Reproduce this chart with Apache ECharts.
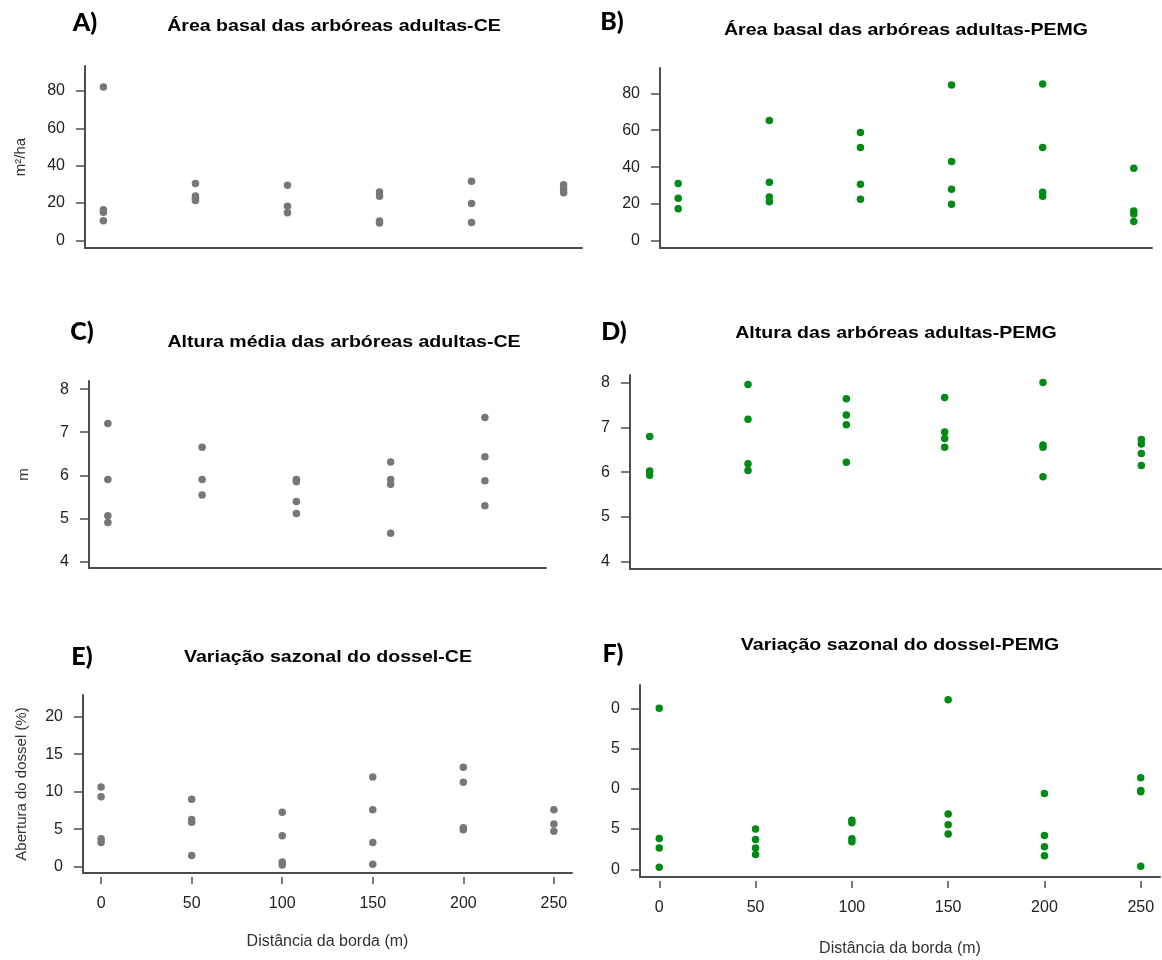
<!DOCTYPE html>
<html>
<head>
<meta charset="utf-8">
<title>Distância da borda</title>
<script src="https://cdn.jsdelivr.net/npm/echarts@6.0.0/dist/echarts.min.js"></script>
<style>
    html, body { margin: 0; padding: 0; background: #fff; }
    #chart { width: 1162px; height: 960px; }
</style>
</head>
<body>
<div id="chart"></div>
<script>
    // distancias da borda (m)
    var distancias = [0, 50, 100, 150, 200, 250];
    var distanciasCE = [0, 50, 100, 150, 200];

    // valores, um array por distancia
    var areaCE = [[82.1, 16.4, 15.0, 10.5], [30.5, 23.8, 22.6, 21.4], [29.5, 18.2, 14.8], [25.9, 23.6, 10.4, 9.3], [31.6, 19.8, 9.5], [29.8, 27.7, 25.5]];
    var areaPEMG = [[31.2, 23.1, 17.5], [65.3, 31.8, 23.8, 21.3], [58.8, 50.7, 30.7, 22.6], [84.5, 43.1, 28.0, 19.9], [85.0, 50.7, 26.4, 24.2], [39.4, 16.2, 14.6, 10.5]];
    var alturaCE = [[7.20, 5.90, 5.06, 4.90], [6.65, 5.90, 5.54], [5.90, 5.85, 5.39, 5.11], [6.31, 5.90, 5.79, 4.65], [7.34, 6.43, 5.87, 5.29]];
    var alturaPEMG = [[6.80, 6.03, 5.93], [7.96, 7.18, 6.19, 6.04], [7.64, 7.28, 7.06, 6.22], [7.67, 6.90, 6.75, 6.56], [8.00, 6.61, 6.56, 5.90], [6.73, 6.63, 6.42, 6.15]];
    var dosselCE = [[10.64, 9.31, 3.72, 3.24], [9.0, 6.3, 5.94, 1.5], [7.27, 4.12, 0.62, 0.22], [11.97, 7.58, 3.24, 0.31], [13.26, 11.26, 5.19, 4.92], [7.58, 5.68, 4.74]];
    var dosselPEMG = [[20.0, 3.83, 2.63, 0.25], [5.0, 3.71, 2.63, 1.83], [6.08, 5.79, 3.79, 3.42], [21.08, 6.88, 5.54, 4.38], [9.42, 4.21, 2.79, 1.67], [11.38, 9.79, 9.63, 0.38]];

    // marcas dos eixos
    var ticksArea = [0, 20, 40, 60, 80];
    var ticksAltura = [4, 5, 6, 7, 8];
    var ticksDossel = [0, 5, 10, 15, 20];
    var labelsDosselF = ['0', '5', '0', '5', '0'];   // assim como aparecem (cortados) no painel F
    var ticksDistancia = [0, 50, 100, 150, 200, 250];

    var cinza = '#777777';
    var verde = '#008c14';
    var corEixo = '#4d4d4d';
    var fonte = '"Liberation Sans", Arial, sans-serif';

    function pontos(grupos, xs) {
        var out = [];
        grupos.forEach(function (vals, i) {
            vals.forEach(function (v) { out.push([xs[i], v]); });
        });
        return out;
    }

    var paineis = [
        {letra: 'A)', titulo: 'Área basal das arbóreas adultas-CE', dados: pontos(areaCE, distancias), cor: cinza,
            grid: {left: 85, top: 66, width: 497, height: 182}, x: [-10, 260], y: [-4.1, 93.4], ticks: ticksArea,
            nome: 'm²/ha', nomeGap: 57, tituloPos: [334, 26], letraPos: [85, 23]},
        {letra: 'B)', titulo: 'Área basal das arbóreas adultas-PEMG', dados: pontos(areaPEMG, distancias), cor: verde,
            grid: {left: 660, top: 68, width: 492, height: 180}, x: [-10, 260], y: [-3.8, 93.7], ticks: ticksArea,
            nome: '', nomeGap: 57, tituloPos: [906, 30], letraPos: [612, 22]},
        {letra: 'C)', titulo: 'Altura média das arbóreas adultas-CE', dados: pontos(alturaCE, distanciasCE), cor: cinza,
            grid: {left: 89, top: 381, width: 457, height: 187}, x: [-10, 232.4], y: [3.845, 8.19], ticks: ticksAltura,
            nome: 'm', nomeGap: 58, tituloPos: [344, 342], letraPos: [82, 332]},
        {letra: 'D)', titulo: 'Altura das arbóreas adultas-PEMG', dados: pontos(alturaPEMG, distancias), cor: verde,
            grid: {left: 630, top: 375, width: 531, height: 194}, x: [-10, 260], y: [3.84, 8.17], ticks: ticksAltura,
            nome: '', nomeGap: 57, tituloPos: [896, 333], letraPos: [614, 332]},
        {letra: 'E)', titulo: 'Variação sazonal do dossel-CE', dados: pontos(dosselCE, distancias), cor: cinza,
            grid: {left: 83, top: 695, width: 489, height: 178}, x: [-10, 260], y: [-0.84, 22.89], ticks: ticksDossel,
            nome: 'Abertura do dossel (%)', nomeGap: 54, tituloPos: [328, 657], letraPos: [82, 657],
            eixoX: {offset: 4, margin: 19, nameGap: 57}},
        {letra: 'F)', titulo: 'Variação sazonal do dossel-PEMG', dados: pontos(dosselPEMG, distancias), cor: verde,
            grid: {left: 640, top: 685, width: 520, height: 192}, x: [-10, 260], y: [-0.96, 22.9], ticks: ticksDossel,
            labels: labelsDosselF, nome: '', nomeGap: 57, tituloPos: [900, 645], letraPos: [613, 654],
            eixoX: {offset: 4, margin: 19, nameGap: 60}}
    ];

    var grids = [], xAxes = [], yAxes = [], series = [], textos = [];

    paineis.forEach(function (p, i) {
        var g = p.grid;
        g.outerBoundsMode = 'none';
        grids.push(g);

        // linha de baixo da caixa em L
        var xIdx = xAxes.length;
        xAxes.push({
            gridIndex: i, type: 'value', position: 'bottom', min: p.x[0], max: p.x[1],
            axisLine: {show: true, onZero: false, lineStyle: {color: corEixo, width: 2}},
            axisTick: {show: false}, axisLabel: {show: false}, splitLine: {show: false}
        });
        if (p.eixoX) {
            // eixo de distancia, um pouco afastado da caixa
            xAxes.push({
                gridIndex: i, type: 'value', position: 'bottom', min: p.x[0], max: p.x[1], offset: p.eixoX.offset,
                axisLine: {show: false, onZero: false},
                axisTick: {show: true, length: 7, customValues: ticksDistancia, lineStyle: {color: corEixo, width: 1.5}},
                axisLabel: {customValues: ticksDistancia, margin: p.eixoX.margin, color: '#222', fontSize: 16, fontFamily: fonte},
                splitLine: {show: false},
                name: 'Distância da borda (m)', nameLocation: 'middle', nameGap: p.eixoX.nameGap,
                nameTextStyle: {color: '#333', fontSize: 16, fontFamily: fonte}
            });
        }

        yAxes.push({
            gridIndex: i, type: 'value', position: 'left', min: p.y[0], max: p.y[1],
            axisLine: {show: true, onZero: false, lineStyle: {color: corEixo, width: 2}},
            axisTick: {show: true, length: 9, customValues: p.ticks, lineStyle: {color: corEixo, width: 1.5}},
            axisLabel: {
                customValues: p.ticks, margin: 20, color: '#222', fontSize: 16, fontFamily: fonte,
                formatter: function (v) {
                    if (p.labels) return p.labels[p.ticks.indexOf(v)];
                    return String(v);
                }
            },
            splitLine: {show: false},
            name: p.nome, nameLocation: 'middle', nameRotate: 90, nameGap: p.nomeGap,
            nameTextStyle: {color: '#333', fontSize: 15, fontFamily: fonte}
        });

        series.push({
            type: 'scatter', xAxisIndex: xIdx, yAxisIndex: i, data: p.dados,
            symbol: 'circle', symbolSize: 7.5, itemStyle: {color: p.cor, opacity: 1}
        });

        // titulo e letra do painel (o original esta um pouco esticado na horizontal)
        textos.push({
            type: 'text', x: p.tituloPos[0], y: p.tituloPos[1], scaleX: 1.15,
            style: {text: p.titulo, font: 'bold 17px ' + fonte, fill: '#000', textAlign: 'center', textVerticalAlign: 'middle'}
        });
        textos.push({
            type: 'text', x: p.letraPos[0], y: p.letraPos[1],
            style: {text: p.letra, font: '900 25px Lato', fill: '#000', textAlign: 'center', textVerticalAlign: 'middle'}
        });
    });

    var myChart = echarts.init(document.getElementById('chart'), null, {renderer: 'canvas'});
    myChart.setOption({
        animation: false,
        backgroundColor: '#fff',
        grid: grids,
        xAxis: xAxes,
        yAxis: yAxes,
        series: series,
        graphic: textos
    });
</script>
</body>
</html>
